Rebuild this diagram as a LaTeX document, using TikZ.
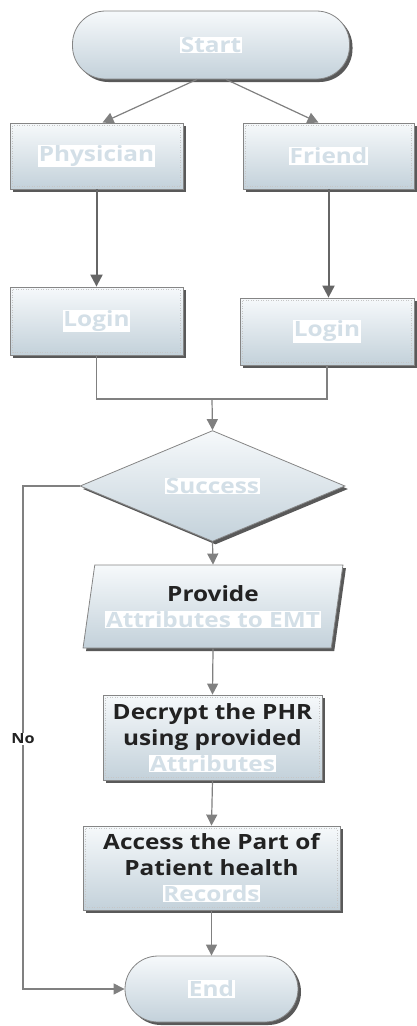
\documentclass[tikz,border=0pt]{standalone}
\usepackage{fontspec}
\setmainfont{Open Sans}[FakeStretch=1.16]
\usetikzlibrary{shapes.geometric,shadows,arrows.meta}
\definecolor{edge}{HTML}{858585}
\definecolor{wire}{HTML}{808080}
\definecolor{topfill}{HTML}{F6F9FB}
\definecolor{botfill}{HTML}{C3D1DA}
\definecolor{pale}{HTML}{D3DFE7}
\definecolor{ink}{HTML}{222222}
\newcommand{\faint}[1]{{\setlength{\fboxsep}{0.6pt}\colorbox{white}{\textcolor{pale}{#1}}}}
\begin{document}
\begin{tikzpicture}[x=1pt,y=-1pt,
  every node/.style={font=\fontsize{21}{26}\selectfont\bfseries, text=ink, align=center},
  shaded/.style={draw=edge, line width=0.8pt, top color=topfill, bottom color=botfill,
    drop shadow={shadow xshift=3pt, shadow yshift=-3pt, fill=black!65, opacity=1}},
  boxnode/.style={shaded, rectangle, inner sep=0pt},
  pill/.style={shaded, rectangle, rounded corners=33pt, inner sep=0pt},
  wire/.style={draw=wire, line width=1.2pt},
  flow/.style={wire, -{Triangle[length=11pt,width=11pt]}},
  heavy/.style={draw=black!60, line width=2pt, -{Triangle[length=12pt,width=12pt]}},
  innerdot/.style={draw=gray!45, dotted, line width=0.5pt}]

\useasboundingbox (0,0) rectangle (417,1026);

% terminals and process boxes
\node[pill, minimum width=277pt, minimum height=68pt] (start) at (211,45) {\faint{Start}};
\node[boxnode, minimum width=173pt, minimum height=66pt] (phys) at (96.5,156) {\faint{Physician}};
\node[boxnode, minimum width=171pt, minimum height=66pt] (friend) at (328.5,156) {\faint{Friend}};
\node[boxnode, minimum width=173pt, minimum height=68pt] (login1) at (96.5,321) {\faint{Login}};
\node[boxnode, minimum width=174pt, minimum height=67pt] (login2) at (327,331.5) {\faint{Login}};
\node[shaded, diamond, minimum width=265pt, minimum height=68pt, inner sep=0pt] (dia) at (212.5,486) {\faint{Success}};
\node[shaded, trapezium, trapezium left angle=76, trapezium right angle=104,
      trapezium stretches=true, minimum width=260pt, minimum height=83pt, inner sep=0pt]
      (provide) at (213,606.5) {Provide\\\faint{Attributes to EMT}};
\node[boxnode, minimum width=219pt, minimum height=85pt] (decrypt) at (212.5,737.5)
      {Decrypt the PHR\\using provided\\\faint{Attributes}};
\node[boxnode, minimum width=257pt, minimum height=84pt] (access) at (211.5,868)
      {Access the Part of\\Patient health\\\faint{Records}};
\node[pill, minimum width=173pt, minimum height=66pt] (end) at (211.5,989) {\faint{End}};

% dotted inner frames of the process boxes
\foreach \n in {phys,friend,login1,login2,decrypt,access}
  \draw[innerdot] ([shift={(3,3)}]\n.north west) rectangle ([shift={(-3,-3)}]\n.south east);

% connectors
\draw[flow] ([xshift=-14pt]start.south) -- ([xshift=6pt]phys.north);
\draw[flow] ([xshift=15pt]start.south) -- ([xshift=-10pt]friend.north);
\draw[heavy] (phys.south) -- (login1.north);
\draw[heavy] (friend.south) -- ([xshift=1.5pt]login2.north);
\coordinate (merge) at (212,399);
\draw[wire] (login1.south) |- (merge) -| (login2.south);
\draw[flow] (merge) -- (dia.north);
\draw[flow] (dia.south) -- (provide.north);
\draw[flow] (provide.south) -- (decrypt.north);
\draw[flow] (decrypt.south) -- (access.north);
\draw[flow] (access.south) -- (end.north);
\coordinate (nocorner) at (23,486);
\draw[flow] (dia.west) -- (nocorner) |- (end.west);
\node[font=\fontsize{14}{16}\selectfont\bfseries, fill=white, inner sep=1pt] (no) at (23,739) {No};
\end{tikzpicture}
\end{document}
